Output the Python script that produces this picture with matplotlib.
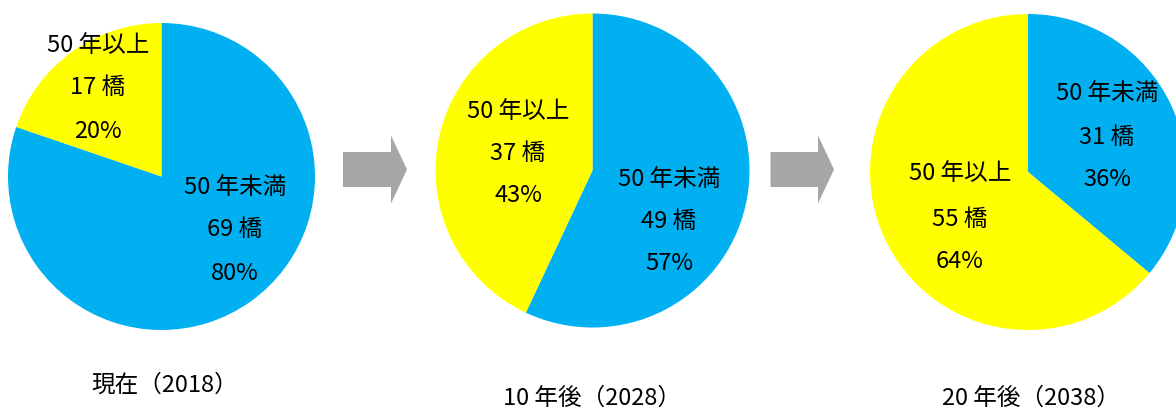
import matplotlib
matplotlib.use("Agg")
import matplotlib.pyplot as plt
from matplotlib.patches import FancyArrow

plt.rcParams['font.family'] = ['Liberation Sans Narrow', 'Noto Sans CJK JP', 'DejaVu Sans']

# Data
titles = ["現在（2018）", "10 年後（2028）", "20 年後（2038）"]
category_names = ["50 年未満", "50 年以上"]
counts_under50 = [69, 49, 31]
counts_over50 = [17, 37, 55]
pct_under50 = [80, 57, 36]
pct_over50 = [20, 43, 64]

BLUE = "#00B0F0"
YELLOW = "#FFFF00"
ARROW = "#A6A6A6"

W, H = 1176, 409
fig = plt.figure(figsize=(W / 100, H / 100), dpi=100)
ax = fig.add_axes([0, 0, 1, 1])
ax.set_xlim(0, W)
ax.set_ylim(0, H)
ax.set_aspect('equal')
ax.axis('off')

# layout (pixel coords, y measured from top)
centers = [(161.5, 176.5), (592.5, 170.5), (1028, 172)]
radii = [153.5, 157, 158]
blue_lab = [(235, [188, 230, 273]), (669, [179, 221, 264]), (1107, [94, 137, 179])]
yel_lab = [(98, [45, 88, 132]), (518, [111, 153, 196]), (960, [174, 219, 261])]
title_pos = [(165, 385), (592, 398), (1031, 398)]
fs = 17

for i in range(3):
    cx, cy = centers[i]
    ax.pie([counts_under50[i], counts_over50[i]], colors=[BLUE, YELLOW],
           startangle=90, counterclock=False, center=(cx, H - cy),
           radius=radii[i], frame=True, wedgeprops=dict(linewidth=0))
    lines_b = [category_names[0], f"{counts_under50[i]} 橋", f"{pct_under50[i]}%"]
    lines_y = [category_names[1], f"{counts_over50[i]} 橋", f"{pct_over50[i]}%"]
    bx, bys = blue_lab[i]
    for t, y in zip(lines_b, bys):
        ax.text(bx, H - y, t, ha='center', va='center', fontsize=fs, color='black')
    yx, yys = yel_lab[i]
    for t, y in zip(lines_y, yys):
        ax.text(yx, H - y, t, ha='center', va='center', fontsize=fs, color='black')
    tx, ty = title_pos[i]
    ax.text(tx, H - ty, titles[i], ha='center', va='center', fontsize=fs, color='black')

ax.set_xlim(0, W)
ax.set_ylim(0, H)
ax.axis('off')

# arrows
for x0, x1 in [(343, 407), (770.5, 834)]:
    ax.add_patch(FancyArrow(x0, H - 169.5, x1 - x0, 0, width=35, head_width=68,
                            head_length=16, length_includes_head=True,
                            color=ARROW, linewidth=0))

fig.savefig("out.png", dpi=100)
